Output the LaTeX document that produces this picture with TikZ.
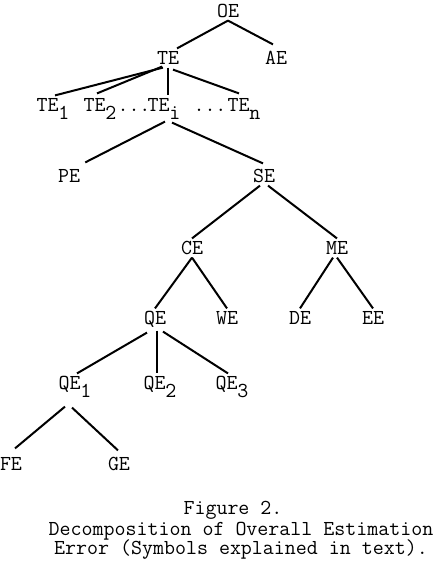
\documentclass[tikz,border=0pt]{standalone}
\usepackage{fontspec}
\usepackage{tikz}
\usetikzlibrary{positioning}

\newcommand{\lowsub}[1]{\raisebox{-6pt}{#1}}
\newcommand{\typefont}{\ttfamily\fontsize{16}{19}\selectfont\addfontfeatures{FakeBold=1.5}}

\begin{document}
\begin{tikzpicture}[x=0.75pt,y=0.75pt,yscale=-1,xscale=1,
        tnode/.style={inner sep=2.25pt, text height=9.5pt, text depth=0pt, font=\typefont},
        cnode/.style={inner sep=0pt, font=\typefont},
        tline/.style={line width=1.5pt}]
        \useasboundingbox (0,0) rectangle (435,569);
        
        % Text Node
        \node [tnode] (oe) at (228,11) {OE};
        \node [tnode] (te) at (168,58) {TE};
        \node [tnode] (ae) at (276,58) {AE};
        % Text Node
        \node [tnode] (te1) at (53,105) {TE\lowsub{1}};
        \node [tnode] (te2) at (100,105) {TE\lowsub{2}};
        \node [tnode] (dots1) at (134,105) {...};
        \node [tnode] (tei) at (164,105) {TE\lowsub{i}};
        \node [tnode] (dots2) at (210,105) {...};
        \node [tnode] (ten) at (244,105) {TE\lowsub{n}};
        % Text Node
        \node [tnode] (pe) at (69,176) {PE};
        \node [tnode] (se) at (264,176) {SE};
        \node [tnode] (ce) at (192,248) {CE};
        \node [tnode] (me) at (337,248) {ME};
        % Text Node
        \node [tnode] (qe) at (155,318) {QE};
        \node [tnode] (we) at (227,318) {WE};
        \node [tnode] (de) at (300,318) {DE};
        \node [tnode] (ee) at (373,318) {EE};
        % Text Node
        \node [tnode] (qe1) at (75,383) {QE\lowsub{1}};
        \node [tnode] (qe2) at (160,383) {QE\lowsub{2}};
        \node [tnode] (qe3) at (232,383) {QE\lowsub{3}};
        \node [tnode] (fe) at (11,464) {FE};
        \node [tnode] (ge) at (119,464) {GE};
        
        %Straight Lines
        \draw [tline] (oe.south) -- ([shift={(9,0)}]te.north) ;
        \draw [tline] (oe.south) -- ([shift={(-3,-4)}]ae.north) ;
        
        %Straight Lines
        \draw [tline] ([shift={(-5,0)}]te.south) -- ([shift={(2,0)}]te1.north) ;
        \draw [tline] ([shift={(-6,-1)}]te.south) -- ([shift={(-3,-2)}]te2.north) ;
        \draw [tline] (te.south) -- ([shift={(4,0)}]tei.north) ;
        \draw [tline] ([shift={(5,2)}]te.south) -- ([shift={(-5,-2)}]ten.north) ;
        
        %Straight Lines
        \draw [tline] ([shift={(1,7)}]tei.south) -- ([shift={(2,-4)}]pe.north east) ;
        \draw [tline] ([shift={(8,8)}]tei.south) -- ([shift={(-1,-3)}]se.north) ;
        
        %Straight Lines
        \draw [tline] ([shift={(-4,0)}]se.south) -- (ce.north) ;
        \draw [tline] ([shift={(4,0)}]se.south) -- (me.north) ;
        \draw [tline] (ce.south) -- (qe.north) ;
        \draw [tline] (ce.south) -- (we.north) ;
        \draw [tline] ([shift={(-4,0)}]me.south) -- (de.north) ;
        \draw [tline] (me.south) -- (ee.north) ;
        
        %Straight Lines
        \draw [tline] ([shift={(-8,5)}]qe.south) -- ([shift={(2,0)}]qe1.north) ;
        \draw [tline] ([shift={(2,3)}]qe.south) -- ([shift={(-3,0)}]qe2.north) ;
        \draw [tline] ([shift={(8,4)}]qe.south) -- ([shift={(-4,0)}]qe3.north) ;
        \draw [tline] ([shift={(-10,14)}]qe1.south) -- ([shift={(4,-6)}]fe.north) ;
        \draw [tline] ([shift={(-3,15)}]qe1.south) -- ([shift={(-1,-4)}]ge.north) ;
        
        % Text Node
        \node [cnode] (fig) at (233,510) {Figure 2.};
        \node [cnode] (caption1) at (241,531) {Decomposition of Overall Estimation};
        \node [cnode] (caption2) at (241,550) {Error (Symbols explained in text).};
\end{tikzpicture}
\end{document}
